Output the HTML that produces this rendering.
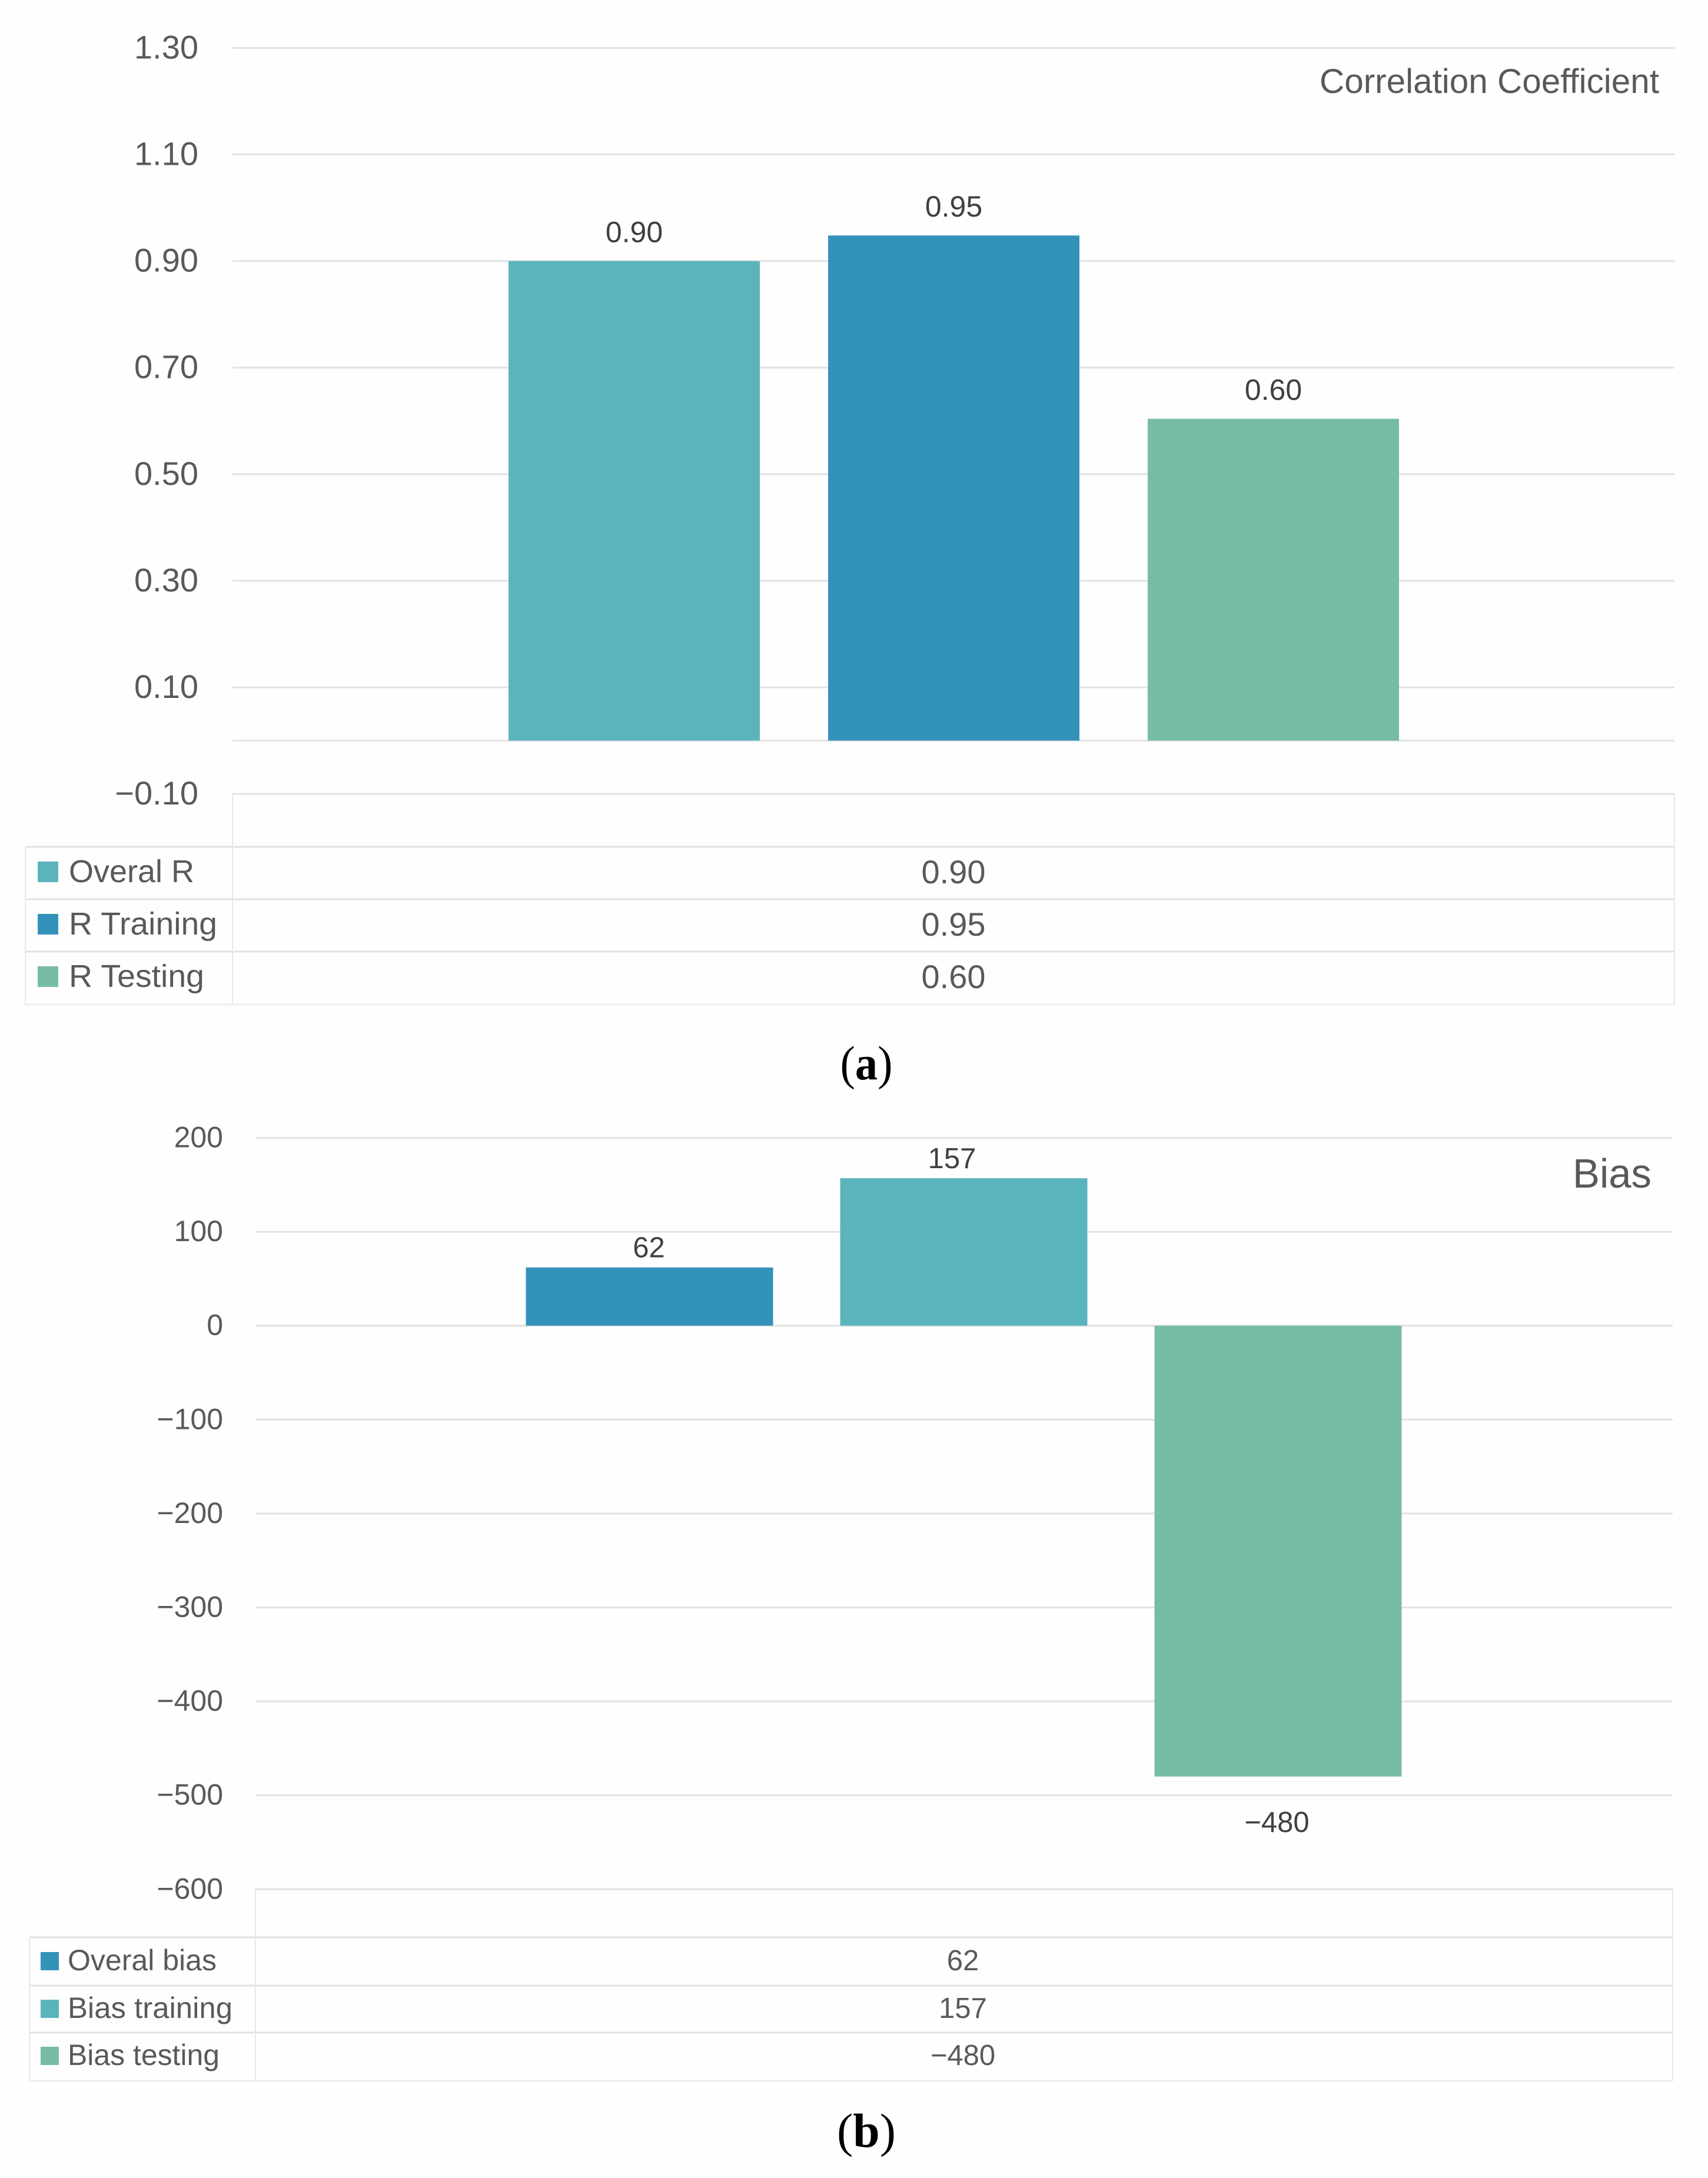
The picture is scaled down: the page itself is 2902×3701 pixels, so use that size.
<!DOCTYPE html>
<html lang="en">
<head>
<meta charset="utf-8">
<title>Correlation coefficient and bias charts</title>
<style>
html,body{margin:0;padding:0;background:#fefefe;}
svg{display:block;}
text{font-family:"Liberation Sans",sans-serif;}
.cap{font-family:"Liberation Serif",serif;fill:#000;}
</style>
</head>
<body>
<svg id="fig" xmlns="http://www.w3.org/2000/svg" width="2902" height="3701" viewBox="0 0 2902 3701">
<rect width="2902" height="3701" fill="#fefefe"/>
<g id="chart-a"></g>
<g id="chart-b"></g>
<text class="cap" x="1472" y="1834" font-size="82" text-anchor="middle" textLength="89" lengthAdjust="spacingAndGlyphs">(<tspan font-weight="bold">a</tspan>)</text>
<text class="cap" x="1472" y="3648" font-size="82" text-anchor="middle" textLength="100" lengthAdjust="spacingAndGlyphs">(<tspan font-weight="bold">b</tspan>)</text>
</svg>
<script>
// Chart (a) data
const corrSeries = ["Overal R", "R Training", "R Testing"];
const corrValues = [0.90, 0.948, 0.604];
const corrTicks = [1.30, 1.10, 0.90, 0.70, 0.50, 0.30, 0.10, -0.10];
// Chart (b) data
const biasSeries = ["Overal bias", "Bias training", "Bias testing"];
const biasValues = [62, 157, -480];
const biasTicks = [200, 100, 0, -100, -200, -300, -400, -500, -600];

const NS = "http://www.w3.org/2000/svg";
const GRID = "#e2e2e2", TICK = "#595959", LABEL = "#404040";

function node(parent, tag, attrs, txt) {
  const el = document.createElementNS(NS, tag);
  for (const k in attrs) el.setAttribute(k, attrs[k]);
  if (txt !== undefined) el.textContent = txt;
  parent.appendChild(el);
  return el;
}
function slug(s) { return s.toLowerCase().replace(/[^a-z0-9]+/g, "-"); }
function signed(s) { return s.replace("-", "\u2212"); }

function drawChart(root, o) {
  const y = v => o.y0 - v * o.unit;
  const x = i => o.cx + (i - 1) * o.step;

  // horizontal gridlines and tick labels
  o.ticks.forEach(t => {
    const label = signed(t.toFixed(o.dec));
    const isFloor = t === o.ticks[o.ticks.length - 1];
    const line = node(root, "line", {x1: o.left, x2: o.right, y1: y(t), y2: y(t), stroke: GRID, "stroke-width": 3});
    
    
    const tx = node(root, "text", {x: o.tickX, y: y(t) + o.tickDy, "font-size": o.fs, "text-anchor": "end", fill: TICK}, label);
    
    
  });

  // category axis baseline
  const base = node(root, "line", {x1: o.left, x2: o.right, y1: y(0), y2: y(0), stroke: GRID, "stroke-width": 3});
  
  

  // data table rules
  o.rows.forEach((ry, i) => {
    const r = node(root, "line", {x1: o.tableLeft, x2: o.right, y1: ry, y2: ry, stroke: i === 3 ? "#efefef" : GRID, "stroke-width": 3});
    
    
  });
  const floorY = y(o.ticks[o.ticks.length - 1]);
  [[o.left, floorY], [o.right, floorY], [o.tableLeft, o.rows[0]]].forEach(p => {
    const v = node(root, "line", {x1: p[0], x2: p[0], y1: p[1], y2: o.rows[3], stroke: "#e8e8e8", "stroke-width": 2});
    
    
  });

  // bars, labels, legend rows
  o.values.forEach((v, i) => {
    const top = Math.min(y(v), y(0)), h = Math.abs(y(v) - y(0));
    const name = slug(o.series[i]);
    const bar = node(root, "rect", {x: x(i) - o.barW / 2, y: top, width: o.barW, height: h, fill: o.colors[i]});
    
    

    const str = signed(v.toFixed(o.valDec));
    const ly = v >= 0 ? top - o.labelGap : top + h + o.labelGapNeg;
    const lab = node(root, "text", {x: x(i) + (o.labelAdj ? o.labelAdj[i] : 0), y: ly, "font-size": o.labelFs, "text-anchor": "middle", fill: LABEL}, str);
    
    

    const by = o.rowBase[i];
    const sw = node(root, "rect", {x: o.swX, y: by - o.swH, width: o.swW, height: o.swH, fill: o.colors[i]});
    
    
    const lt = node(root, "text", {x: o.legX, y: by, "font-size": o.legFs, fill: TICK, textLength: o.legLen[i], lengthAdjust: "spacingAndGlyphs"}, o.series[i]);
    
    
    const cell = node(root, "text", {x: o.cellX, y: by + o.cellDy, "font-size": o.cellFs, "text-anchor": "middle", fill: TICK}, str);
    
    
  });

  // chart title
  const title = node(root, "text", {x: o.titleX, y: o.titleY, "font-size": o.titleFs, "text-anchor": "end", fill: TICK, textLength: o.titleLen, lengthAdjust: "spacingAndGlyphs"}, o.title);
  
  
}

drawChart(document.getElementById("chart-a"), {
  series: corrSeries, values: corrValues, ticks: corrTicks, dec: 2, valDec: 2,
  colors: ["#5ab4bc", "#3392ba", "#77bca6"],
  y0: 1258.5, unit: 905.4, left: 395, right: 2845, tableLeft: 43,
  tickX: 337, tickDy: 18, fs: 56,
  cx: 1620.5, step: 543, barW: 427,
  labelFs: 50, labelGap: 32, labelGapNeg: 60,
  rows: [1439, 1528, 1617, 1707], rowBase: [1499, 1588, 1677],
  swX: 64, swW: 35, swH: 35, legX: 117, legFs: 54, legLen: [213, 252, 230],
  cellX: 1620, cellDy: 2, cellFs: 56,
  title: "Correlation Coefficient", titleX: 2819, titleY: 158, titleFs: 58, titleLen: 577
});

drawChart(document.getElementById("chart-b"), {
  series: biasSeries, values: biasValues, ticks: biasTicks, dec: 0, valDec: 0,
  colors: ["#3392ba", "#5ab4bc", "#77bca6"],
  y0: 2252.7, unit: 1.596, left: 434, right: 2842, tableLeft: 50,
  tickX: 379, tickDy: 16, fs: 50,
  cx: 1637.5, step: 534, barW: 420, labelAdj: [-1, -20, -2],
  labelFs: 49, labelGap: 17, labelGapNeg: 94,
  rows: [3292, 3374, 3454, 3536], rowBase: [3348, 3429, 3509],
  swX: 69, swW: 31, swH: 31, legX: 115, legFs: 50, legLen: [253, 280, 258],
  cellX: 1636, cellDy: 0, cellFs: 49,
  title: "Bias", titleX: 2806, titleY: 2018, titleFs: 70, titleLen: 134
});
</script>
</body>
</html>
